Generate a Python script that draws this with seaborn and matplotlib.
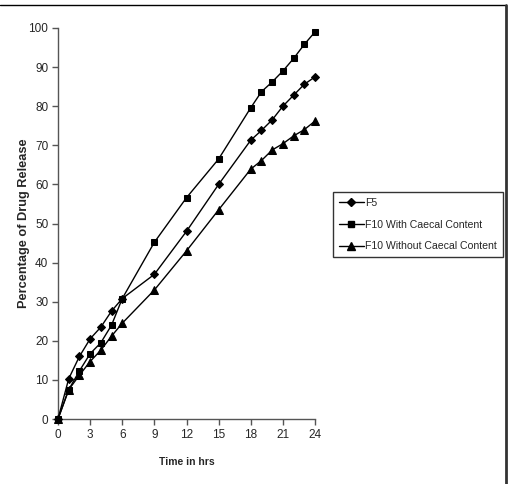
import numpy as np
import pandas as pd
import seaborn as sns
import matplotlib.pyplot as plt
from matplotlib.lines import Line2D

# Data
hours = [0, 1, 2, 3, 4, 5, 6, 9, 12, 15, 18, 19, 20, 21, 22, 23, 24]
f5 = [0, 10.3, 16.0, 20.5, 23.5, 27.6, 30.8, 37.0, 48.0, 60.0, 71.3, 73.8, 76.5, 80.0, 82.8, 85.6, 87.5]
f10_with = [0, 7.5, 12.3, 16.7, 19.5, 24.0, 30.8, 45.2, 56.6, 66.5, 79.6, 83.7, 86.2, 89.0, 92.2, 95.8, 99.0]
f10_without = [0, 7.5, 11.2, 14.7, 17.6, 21.2, 24.5, 33.0, 43.0, 53.5, 63.9, 66.1, 68.8, 70.4, 72.4, 74.0, 76.2]

series_names = ["F5", "F10 With Caecal Content", "F10 Without Caecal Content"]
series_values = [f5, f10_with, f10_without]
markers = ["D", "s", "^"]
marker_sizes = [4.5, 5, 6]

sns.set_style("white")
plt.rcParams['font.family'] = ['Liberation Sans', 'DejaVu Sans']

fig = plt.figure(figsize=(5.1, 4.84), dpi=100)
ax = fig.add_axes([58 / 510, 65 / 484, 257 / 510, 391 / 484])

for name, vals, mk, ms in zip(series_names, series_values, markers, marker_sizes):
    df = pd.DataFrame({"hours": hours, "release": vals})
    sns.lineplot(data=df, x="hours", y="release", ax=ax, color="black",
                 marker=mk, markersize=ms, markeredgecolor="black",
                 linewidth=1, label=name, clip_on=False, zorder=3)

ax.set_xlim(0, 24)
ax.set_ylim(0, 100)
ax.set_xticks(range(0, 25, 3))
ax.set_yticks(range(0, 101, 10))
ax.tick_params(axis="both", direction="out", length=4, width=1, color="#555555",
               labelsize=8.5, pad=3, bottom=True, left=True)
for side in ["top", "right"]:
    ax.spines[side].set_visible(False)
for side in ["left", "bottom"]:
    ax.spines[side].set_color("#555555")
    ax.spines[side].set_linewidth(1)

ax.set_xlabel("Time in hrs", fontsize=7.5, fontweight="bold", labelpad=12)
ax.set_ylabel("Percentage of Drug Release", fontsize=9.2, fontweight="bold", labelpad=-1)

ax.get_legend().remove()
handles = [Line2D([], [], color="black", marker=mk, markersize=ms, linewidth=1)
           for mk, ms in zip(markers, marker_sizes)]
leg = fig.legend(handles, series_names, loc="upper left",
                 bbox_to_anchor=(333 / 510, 1 - 192 / 484), fontsize=7.6,
                 frameon=True, fancybox=False, edgecolor="black",
                 handlelength=2.4, handletextpad=0.1, borderpad=0.55,
                 labelspacing=1.12, borderaxespad=0)
leg.get_frame().set_linewidth(1)

# outer frame lines (top and right) as in the reference
fig.add_artist(Line2D([0, 506 / 510], [1 - 5 / 484, 1 - 5 / 484], color="black", linewidth=1,
                      transform=fig.transFigure))
fig.add_artist(Line2D([506 / 510, 506 / 510], [0, 1 - 5 / 484], color="#333333", linewidth=2,
                      transform=fig.transFigure))

fig.savefig("out.png", dpi=100)
